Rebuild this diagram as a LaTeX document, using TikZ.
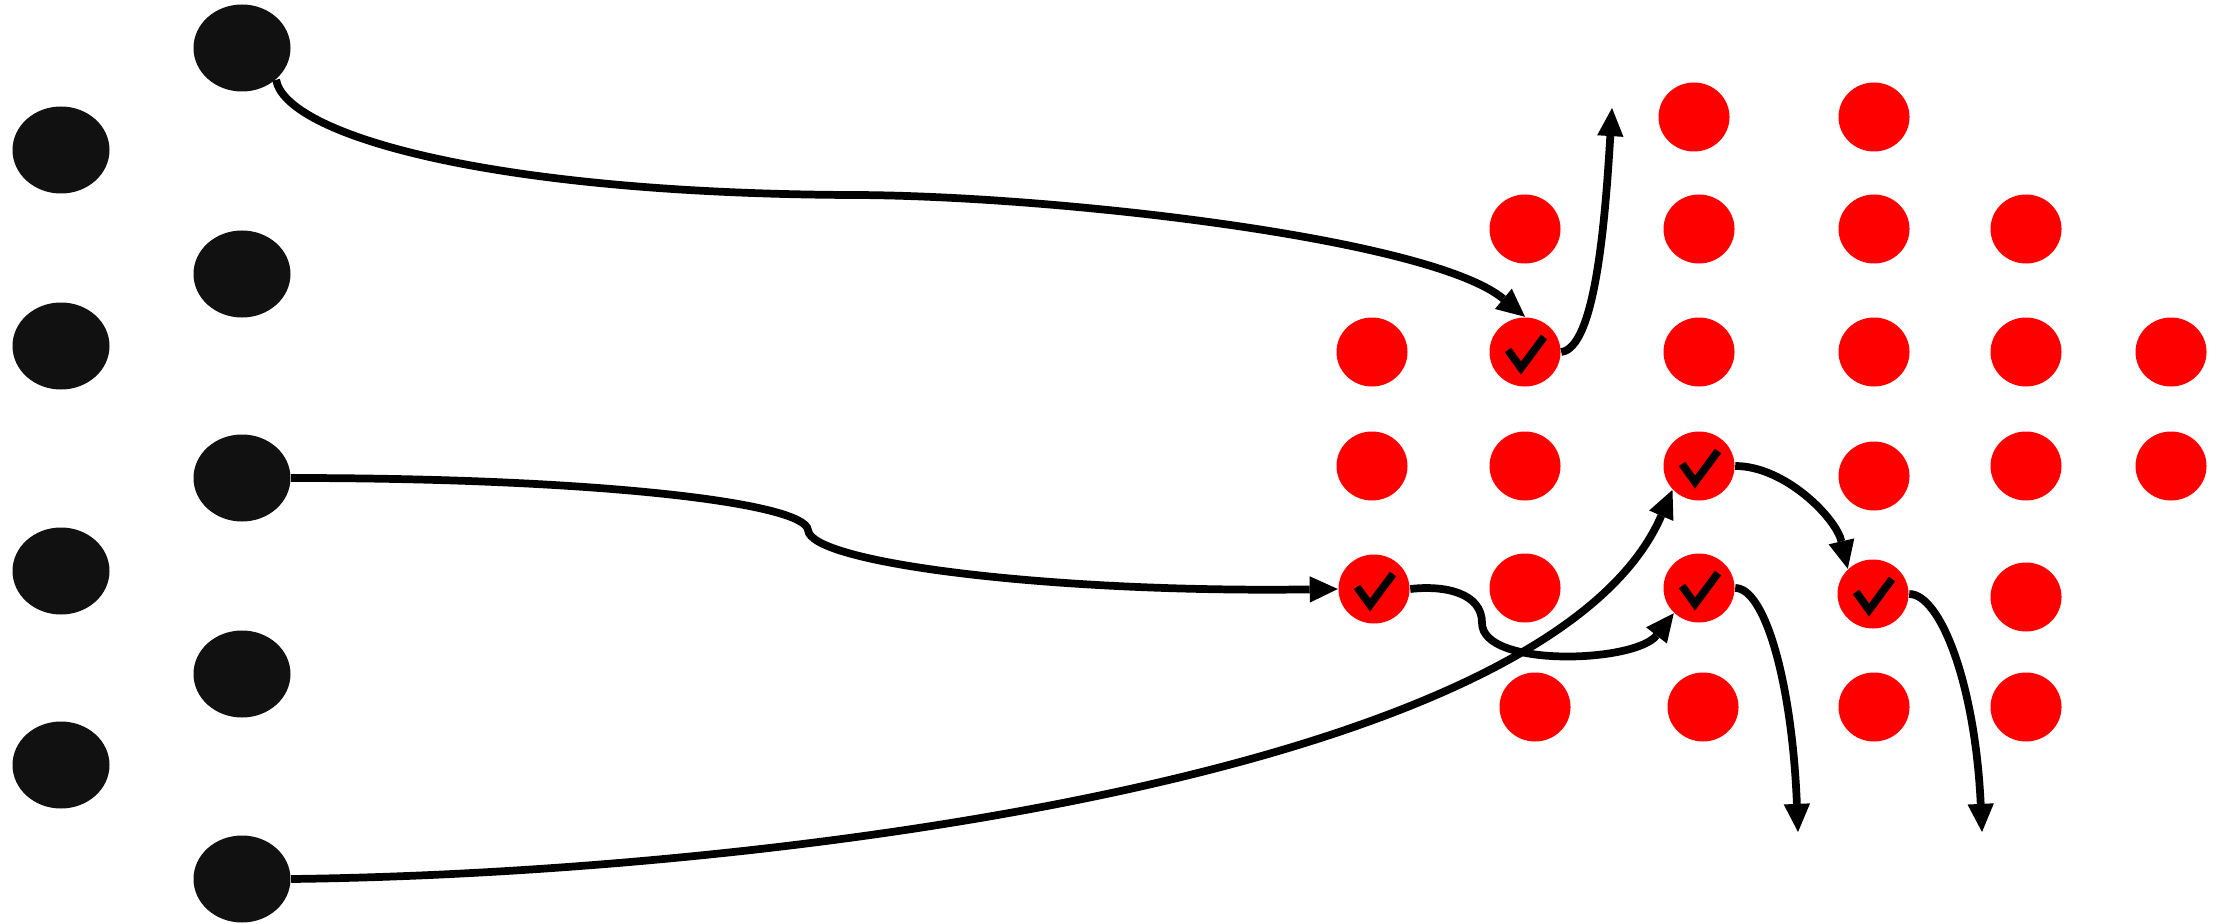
\documentclass[tikz,border=0pt]{standalone}
\usetikzlibrary{arrows.meta,shapes.geometric}
\definecolor{ink}{HTML}{111111}
\definecolor{hot}{HTML}{FF0000}

\begin{document}
\begin{tikzpicture}[>=Triangle,line join=miter]
  \tikzset{
    unit/.style={ellipse,draw=none,fill=ink,inner sep=0pt,minimum width=0.97cm,minimum height=0.87cm},
    dot/.style={ellipse,draw=none,fill=hot,inner sep=0pt,minimum width=0.71cm,minimum height=0.69cm},
    ticked/.style={dot,path picture={
      \draw[black,line width=2.2pt,shift={(path picture bounding box.center)}]
        (-0.17,0.02)--(-0.04,-0.16)--(0.19,0.15);}},
    flow/.style={black,line width=2.2pt,-{Triangle[length=8pt,width=7.5pt,line width=0pt,fill=black]}}
  }
  \useasboundingbox (0,0) rectangle (22.29,9.23);

  % Black units, two columns.
  \node[unit] (A1) at (0.61,7.73) {};
  \node[unit] (A2) at (0.61,5.77) {};
  \node[unit] (A3) at (0.61,3.52) {};
  \node[unit] (A4) at (0.61,1.58) {};
  \node[unit] (B1) at (2.42,8.75) {};
  \node[unit] (B2) at (2.42,6.49) {};
  \node[unit] (B3) at (2.42,4.45) {};
  \node[unit] (B4) at (2.42,2.49) {};
  \node[unit] (B5) at (2.42,0.44) {};

  % Red dots, row by row.
  \node[dot] (r1c) at (16.94,8.06) {};
  \node[dot] (r1d) at (18.74,8.06) {};

  \node[dot] (r2b) at (15.25,6.94) {};
  \node[dot] (r2c) at (16.99,6.94) {};
  \node[dot] (r2d) at (18.74,6.94) {};
  \node[dot] (r2e) at (20.26,6.94) {};

  \node[dot]    (r3a) at (13.72,5.71) {};
  \node[ticked] (r3b) at (15.25,5.71) {};
  \node[dot]    (r3c) at (16.99,5.71) {};
  \node[dot]    (r3d) at (18.74,5.71) {};
  \node[dot]    (r3e) at (20.26,5.71) {};
  \node[dot]    (r3f) at (21.71,5.71) {};

  \node[dot]    (r4a) at (13.72,4.57) {};
  \node[dot]    (r4b) at (15.25,4.57) {};
  \node[ticked] (r4c) at (16.99,4.57) {};
  \node[dot]    (r4d) at (18.74,4.47) {};
  \node[dot]    (r4e) at (20.26,4.57) {};
  \node[dot]    (r4f) at (21.71,4.57) {};

  \node[ticked] (r5a) at (13.74,3.34) {};
  \node[dot]    (r5b) at (15.25,3.35) {};
  \node[ticked] (r5c) at (16.99,3.35) {};
  \node[ticked] (r5d) at (18.73,3.29) {};
  \node[dot]    (r5e) at (20.26,3.26) {};

  \node[dot] (r6b) at (15.35,2.16) {};
  \node[dot] (r6c) at (17.03,2.16) {};
  \node[dot] (r6d) at (18.74,2.16) {};
  \node[dot] (r6e) at (20.26,2.16) {};

  % Free ends of the outgoing arrows.
  \coordinate (upTip) at (16.12,8.15);
  \coordinate (outA) at (17.98,0.91);
  \coordinate (outB) at (19.82,0.91);

  % Connectors.
  \draw[flow] (B1.-43) .. controls (2.85,7.9) and (4.8,7.3) .. (8.5,7.28)
    .. controls (10.5,7.28) and (14.3,6.85) .. (r3b.north);
  \draw[flow] (r3b.east) .. controls (15.95,5.75) and (16.05,7.0) .. (upTip);
  \draw[flow] (B3.east) .. controls (6.0,4.45) and (8.05,4.2) .. (8.08,3.93)
    .. controls (8.1,3.6) and (10.5,3.3) .. (r5a.west);
  \draw[flow] (r5a.east) .. controls (14.45,3.38) and (14.82,3.3) .. (14.82,3.0)
    .. controls (14.82,2.55) and (16.35,2.6) .. (r5c.-135);
  \draw[flow] (B5.east) .. controls (7.8,0.5) and (15.5,1.5) .. (r4c.-138);
  \draw[flow] (r4c.east) .. controls (17.85,4.57) and (18.36,4.05) .. (r5d.135);
  \draw[flow] (r5c.east) .. controls (17.65,3.35) and (17.92,2.4) .. (outA);
  \draw[flow] (r5d.east) .. controls (19.4,3.29) and (19.75,2.4) .. (outB);
\end{tikzpicture}
\end{document}
